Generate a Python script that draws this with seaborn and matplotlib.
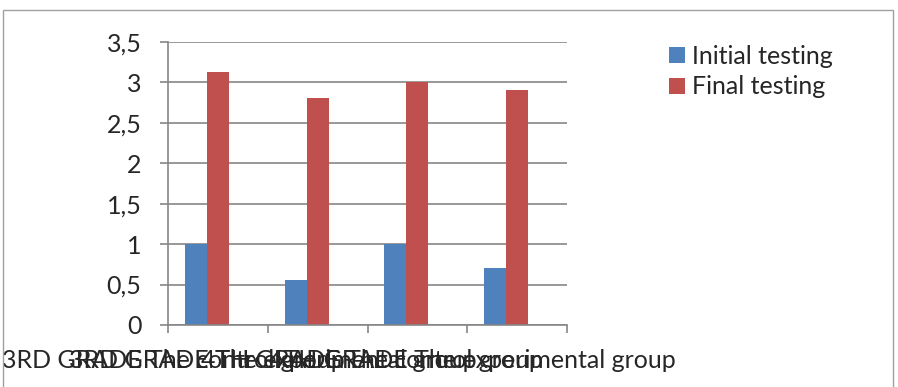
import numpy as np
import pandas as pd
import seaborn as sns
import matplotlib.pyplot as plt
from matplotlib.patches import Rectangle
from matplotlib.transforms import ScaledTranslation

groups = ["3RD GRADE The control group", "3RD GRADE The experimental group",
          "4TH GRADE The control group", "4TH GRADE The experimental group"]
initial = [1.0, 0.55, 1.0, 0.70]
final = [3.12, 2.81, 3.0, 2.90]
series = ["Initial testing", "Final testing", " "]
yticks = [0, 0.5, 1, 1.5, 2, 2.5, 3, 3.5]
ytick_labels = ["0", "0,5", "1", "1,5", "2", "2,5", "3", "3,5"]

BLUE = "#4F81BD"
RED = "#C0504D"
GRID = "#868686"


def main():
    df = pd.DataFrame({
        "group": groups * 3,
        "series": [series[0]] * 4 + [series[1]] * 4 + [series[2]] * 4,
        "value": initial + final + [np.nan] * 4,
    })

    sns.set_style("white")
    plt.rcParams["font.family"] = ["Lato", "DejaVu Sans"]

    fig = plt.figure(figsize=(8.98, 3.87), dpi=100)
    ax = fig.add_axes([168 / 898, 1 - 325 / 387, 399 / 898, 283.3 / 387])

    # third (empty) series keeps the Excel-style offset of the bar pairs
    sns.barplot(data=df, x="group", y="value", hue="series", order=groups,
                hue_order=series, palette=[BLUE, RED, "white"], width=0.66,
                gap=0, saturation=1, errorbar=None, linewidth=0, ax=ax)

    ax.set_ylim(0, 3.5)
    ax.set_xlim(-0.5, 3.5)
    ax.set_yticks(yticks)
    ax.set_yticklabels(ytick_labels)
    ax.yaxis.grid(True, color=GRID, lw=1.2)
    ax.set_axisbelow(True)
    ax.set_xlabel("")
    ax.set_ylabel("")

    for s in ["top", "right"]:
        ax.spines[s].set_visible(False)
    for s in ["left", "bottom"]:
        ax.spines[s].set_color(GRID)
        ax.spines[s].set_linewidth(1.2)

    ax.tick_params(axis="y", length=6, width=1.2, color=GRID, pad=13,
                   labelsize=18, left=True)
    ax.set_xticks(np.arange(-0.5, 4, 1), minor=True)
    ax.tick_params(axis="x", which="minor", length=6, width=1.2, color=GRID,
                   bottom=True)
    ax.tick_params(axis="x", which="major", length=0, pad=17, labelsize=18)

    # labels are crammed together as in the source, shifted a bit left
    shift = ScaledTranslation(-0.45, 0, fig.dpi_scale_trans)
    for lab in ax.get_xticklabels():
        lab.set_transform(lab.get_transform() + shift)

    handles, labels = ax.get_legend_handles_labels()
    ax.get_legend().remove()
    fig.legend(handles[:2], labels[:2], loc="upper left",
               bbox_to_anchor=(669 / 898, 1 - 45 / 387), frameon=False,
               fontsize=18, handlelength=0.65, handleheight=0.6,
               handletextpad=0.25, labelspacing=0.3, borderpad=0,
               borderaxespad=0)

    fig.patches.append(Rectangle((3 / 898, -0.05), 890 / 898, 1.05 - 10 / 387,
                                 transform=fig.transFigure, fill=False,
                                 edgecolor="#A0A0A0", lw=1))

    plt.savefig("out.png", dpi=100)


if __name__ == "__main__":
    main()
